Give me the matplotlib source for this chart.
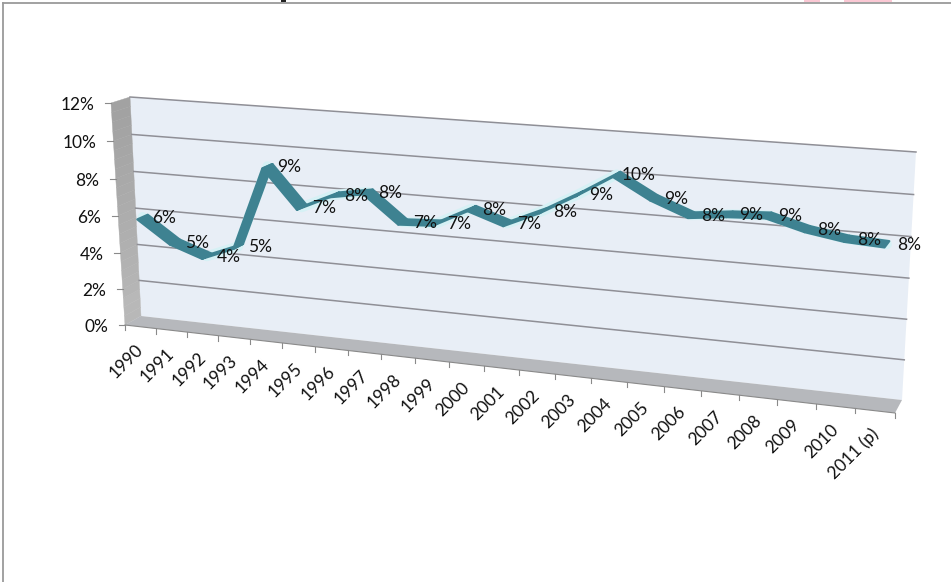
import numpy as np
import matplotlib
matplotlib.use("Agg")
import matplotlib.pyplot as plt
from matplotlib.patches import Polygon, Rectangle

plt.rcParams["font.family"] = ["Lato", "DejaVu Sans"]

years = ["1990", "1991", "1992", "1993", "1994", "1995", "1996", "1997", "1998", "1999", "2000",
         "2001", "2002", "2003", "2004", "2005", "2006", "2007", "2008", "2009", "2010", "2011 (p)"]
values = [5.8, 4.6, 4.0, 4.7, 9.1, 7.1, 7.9, 8.2, 6.8, 6.9, 7.8,
          7.2, 8.0, 9.0, 10.1, 9.1, 8.4, 8.6, 8.7, 8.2, 7.9, 7.8]
y_ticks = [0, 2, 4, 6, 8, 10, 12]

# pixel corners of the chart box: bottom-left, bottom-right, top-right, top-left
BACK = [(141, 316), (902, 400), (916, 152), (130, 97)]
FRONT = [(125, 325), (895, 413), (908, 161), (111, 103)]


def homography(corners):
    src = [(0, 0), (len(years), 0), (len(years), y_ticks[-1]), (0, y_ticks[-1])]
    a, b = [], []
    for (u, v), (x, y) in zip(src, corners):
        a.append([u, v, 1, 0, 0, 0, -u * x, -v * x])
        a.append([0, 0, 0, u, v, 1, -u * y, -v * y])
        b += [x, y]
    return np.append(np.linalg.solve(np.array(a, float), np.array(b, float)), 1).reshape(3, 3)


H_BACK = homography(BACK)
H_FRONT = homography(FRONT)


def project(u, v, depth=1.0):
    # category position, value and depth (0 front, 1 back) to pixels
    u, v = np.atleast_1d(u, v)
    u, v = np.broadcast_arrays(u, v)
    p = np.stack([u, v, np.ones_like(u)], dtype=float)
    f = H_FRONT @ p
    b = H_BACK @ p
    f = f[:2] / f[2]
    b = b[:2] / b[2]
    xy = f + (b - f) * depth
    return xy[0], xy[1]


fig = plt.figure(figsize=(9.51, 5.82), dpi=100)
ax = fig.add_axes([0, 0, 1, 1])
ax.set_xlim(0, 951)
ax.set_ylim(582, 0)
ax.axis("off")

FS = 12.5

# outer frame, only top and left survive
ax.plot([2.5, 951], [2.5, 2.5], color="#9a9a9a", lw=1.3)
ax.plot([2.5, 2.5], [2.5, 582], color="#9a9a9a", lw=1.3)

# bits of the cropped heading and logo
ax.add_patch(Rectangle((281, 0), 5, 2, color="#222222", lw=0))
ax.add_patch(Rectangle((804, 0), 16, 2, color="#fbc8d4", lw=0))
ax.add_patch(Rectangle((844, 0), 48, 2, color="#fbc8d4", lw=0))

n = len(years)
top = y_ticks[-1]


def corner(u, v, d):
    x, y = project(u, v, d)
    return (x[0], y[0])


# box: back wall, side wall (shaded in bands), floor
ax.add_patch(Polygon([corner(0, 0, 1), corner(n, 0, 1), corner(n, top, 1), corner(0, top, 1)],
                     fc="#e8eef6", ec="none", zorder=1))
for k in range(24):
    v0, v1 = top * k / 24, top * (k + 1) / 24
    shade = 0.72 - 0.09 * (v0 / top) if v0 > 1 else 0.72
    ax.add_patch(Polygon([corner(0, v0, 0), corner(0, v0, 1), corner(0, v1, 1), corner(0, v1, 0)],
                         fc=str(round(shade, 3)), ec=str(round(shade, 3)), lw=0.3, zorder=2))
ax.add_patch(Polygon([corner(0, 0, 0), corner(n, 0, 0), corner(n, 0, 1), corner(0, 0, 1)],
                     fc="#b6b8bc", ec="none", zorder=2))

# gridlines on the back wall
for t in y_ticks[1:]:
    x, y = project([0, n], [t, t], 1)
    ax.plot(x, y, color="#8f8f96", lw=1.1, zorder=3)

# value axis ticks and labels
for t in y_ticks:
    x, y = project(0, t, 0)
    ax.plot([x[0] - 6, x[0]], [y[0], y[0]], color="#8a8a8a", lw=0.8, zorder=3)
    ax.text(x[0] - 17, y[0] + 2, f"{t}%", ha="right", va="center", fontsize=FS, color="#111111")

# category axis
x, y = project([0, n], [0, 0], 0)
ax.plot(x, y, color="#8a8a8a", lw=0.8, zorder=3)
for i in range(n + 1):
    x, y = project(i, 0, 0)
    ax.plot([x[0], x[0]], [y[0], y[0] + 5], color="#8a8a8a", lw=0.8, zorder=3)
for i, label in enumerate(years):
    x, y = project(i + 0.5, 0, 0)
    ax.text(x[0] - 5, y[0] + 15, label, rotation=45, rotation_mode="anchor", ha="right", va="top",
            fontsize=FS, color="#111111")

# the series is a ribbon running through the depth of the box
cx = np.arange(n) + 0.5
xm, ym = project(cx, values, 0.5)
xa, ya = project(cx, values, 0.2)
xb, yb = project(cx, values, 0.8)
ax.plot(xm, ym, color="#d6f1f5", lw=7.2, solid_joinstyle="round", solid_capstyle="round", zorder=4)
for i in range(n - 1):
    ribbon = [(xa[i], ya[i]), (xa[i + 1], ya[i + 1]), (xb[i + 1], yb[i + 1]), (xb[i], yb[i])]
    ax.add_patch(Polygon(ribbon, fc="#3e8291", ec="#3e8291", lw=1.6, joinstyle="round", zorder=5))

# data labels sit right of each point
for px, py, v in zip(xm, ym, values):
    ax.text(px + 22, py + 1, f"{v:.0f}%", ha="center", va="center", fontsize=FS, color="#111111", zorder=7)

fig.savefig("out.png", dpi=100)
